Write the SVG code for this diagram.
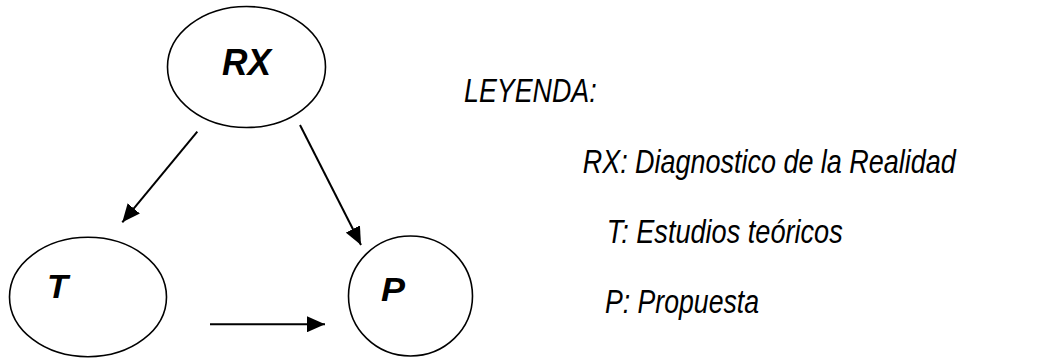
<svg xmlns="http://www.w3.org/2000/svg" width="1053" height="358" viewBox="0 0 1053 358">
<style>
.node{fill:#fff;stroke:#000;stroke-width:1.6}
.lbl{font-family:"Liberation Sans",Arial,sans-serif;font-weight:bold;font-style:italic;fill:#000}
.leg{font-family:"Liberation Sans",Arial,sans-serif;font-style:italic;font-size:32.5px;fill:#000}
.conn{stroke:#000;stroke-width:2;fill:none}
</style>
<defs>
<marker id="ah" markerUnits="userSpaceOnUse" markerWidth="18" markerHeight="16" viewBox="0 0 17 15" refX="17" refY="7.5" orient="auto">
<path d="M0,0 L17,7.5 L0,15 z" fill="#000"/>
</marker>
</defs>
<rect width="1053" height="358" fill="#fff"/>
<g id="connectors">
<line class="conn" x1="197.3" y1="131.7" x2="122.3" y2="222.3" marker-end="url(#ah)"/>
<line class="conn" x1="300" y1="125" x2="361" y2="245" marker-end="url(#ah)"/>
<line class="conn" x1="210" y1="324.3" x2="325" y2="324.3" marker-end="url(#ah)"/>
</g>
<g id="node-RX">
<ellipse class="node" cx="246.5" cy="67" rx="79" ry="60.5"/>
<text class="lbl" x="222" y="75" font-size="37" textLength="49" lengthAdjust="spacingAndGlyphs">RX</text>
</g>
<g id="node-T">
<ellipse class="node" cx="88" cy="297" rx="78.5" ry="59.7"/>
<text class="lbl" x="47" y="298.3" font-size="34" textLength="21" lengthAdjust="spacingAndGlyphs">T</text>
</g>
<g id="node-P">
<ellipse class="node" cx="410.5" cy="296" rx="62" ry="60"/>
<text class="lbl" x="381" y="301" font-size="34" textLength="24" lengthAdjust="spacingAndGlyphs">P</text>
</g>
<g id="legend">
<text class="leg" x="464" y="101.7" textLength="132.7" lengthAdjust="spacingAndGlyphs">LEYENDA:</text>
<text class="leg" x="582.7" y="173.3" textLength="373" lengthAdjust="spacingAndGlyphs">RX: Diagnostico de la Realidad</text>
<text class="leg" x="606.7" y="243.3" textLength="236" lengthAdjust="spacingAndGlyphs">T: Estudios teóricos</text>
<text class="leg" x="605" y="313.3" textLength="154" lengthAdjust="spacingAndGlyphs">P: Propuesta</text>
</g>
</svg>
